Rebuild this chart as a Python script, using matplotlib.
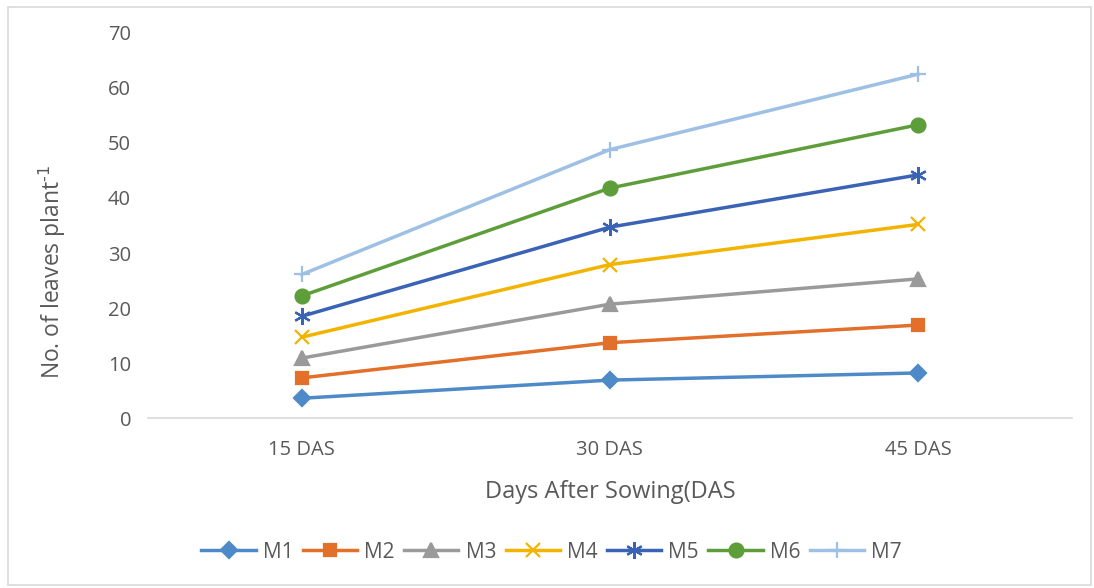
import matplotlib.pyplot as plt
from matplotlib.patches import Rectangle

stages = ['15 DAS', '30 DAS', '45 DAS']
m1 = [3.6, 6.9, 8.2]
m2 = [7.3, 13.7, 16.9]
m3 = [10.9, 20.7, 25.3]
m4 = [14.7, 27.9, 35.2]
m5 = [18.5, 34.7, 44.2]
m6 = [22.2, 41.8, 53.3]
m7 = [26.1, 48.8, 62.5]

series = [
    ('M1', m1, '#4E8AC8', 'D', 8),
    ('M2', m2, '#E2702B', 's', 9),
    ('M3', m3, '#9A9A9A', '^', 10),
    ('M4', m4, '#F2B400', 'x', 10),
    ('M5', m5, '#3A63B5', (6, 2, 0), 12),
    ('M6', m6, '#5E9E3A', 'o', 10),
    ('M7', m7, '#9DC0E4', '+', 12),
]

plt.rcParams['font.family'] = ['Open Sans', 'DejaVu Sans']
tick_col = '#595959'

fig = plt.figure(figsize=(10.94, 5.88), dpi=100)
ax = fig.add_axes([0.135, 0.289, 0.845, 0.655])
fig.patches.append(Rectangle((0.007, 0.005), 0.99, 0.983, transform=fig.transFigure,
                             fill=False, edgecolor='#D9D9D9', linewidth=1.2))

x = range(len(stages))
for name, vals, col, mk, ms in series:
    ax.plot(x, vals, color=col, linewidth=2.5, marker=mk, markersize=ms,
            markeredgewidth=1.6, label=name)

ax.set_xlim(-0.5, 2.5)
ax.set_ylim(0, 70)
ax.set_yticks(range(0, 71, 10))
ax.set_xticks(list(x))
ax.set_xticklabels(stages)
for s in ['top', 'right', 'left']:
    ax.spines[s].set_visible(False)
ax.spines['bottom'].set_color('#D9D9D9')
ax.spines['bottom'].set_linewidth(1.2)
ax.tick_params(axis='both', length=0, labelsize=14.5, labelcolor=tick_col)
ax.tick_params(axis='y', pad=12)
ax.tick_params(axis='x', pad=16)

ax.set_xlabel('Days After Sowing(DAS', fontsize=17, color=tick_col, labelpad=14)
ax.set_ylabel('No. of leaves plant$^{\\text{-1}}$', fontsize=16.5, color=tick_col)
ax.yaxis.set_label_coords(-0.086, 0.38)

ax.legend(loc='center', bbox_to_anchor=(0.437, -0.348), ncol=7, frameon=False,
          fontsize=15, labelcolor=tick_col, handlelength=2.6, handletextpad=0.35,
          columnspacing=0.45)

fig.savefig('out.png', dpi=100)
